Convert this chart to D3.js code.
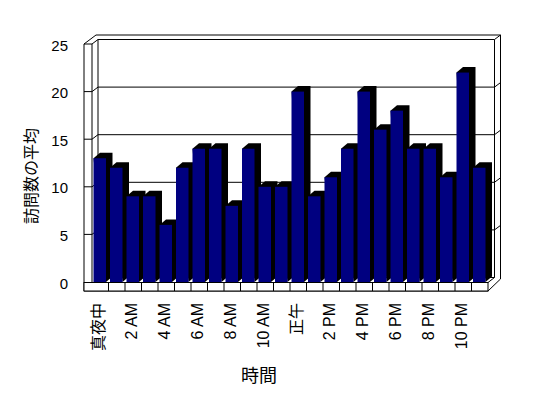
<!DOCTYPE html>
<html>
<head>
<meta charset="utf-8">
<script src="https://cdn.jsdelivr.net/npm/d3@7"></script>
<style>
body { margin: 0; background: #fff; }
text { font-family: "Liberation Sans", "Noto Sans CJK JP", sans-serif; fill: #000; }
</style>
</head>
<body>
<script>
// data
var categories = ["真夜中", "1 AM", "2 AM", "3 AM", "4 AM", "5 AM", "6 AM", "7 AM", "8 AM", "9 AM", "10 AM", "11 AM",
                  "正午", "1 PM", "2 PM", "3 PM", "4 PM", "5 PM", "6 PM", "7 PM", "8 PM", "9 PM", "10 PM", "11 PM"];
var visits = [13, 12, 9, 9, 6, 12, 14, 14, 8, 14, 10, 10, 20, 9, 11, 14, 20, 16, 18, 14, 14, 11, 22, 12];
var yTicks = [0, 5, 10, 15, 20, 25];
var shownLabels = ["真夜中", "2 AM", "4 AM", "6 AM", "8 AM", "10 AM", "正午", "2 PM", "4 PM", "6 PM", "8 PM", "10 PM"];

var width = 548;
var height = 398;

// scales (front plane)
var x = d3.scaleBand().domain(categories).range([92, 488]);
var y = d3.scaleLinear().domain([0, 25]).range([282, 44]);

// depth offsets for walls and bars
var dx = 6, dy = 4.5;
var bdx = 6.5, bdy = 5.5;

var svg = d3.select("body").append("svg")
    .attr("width", width)
    .attr("height", height);

var line = svg.append("g")
    .attr("fill", "none")
    .attr("stroke", "#000")
    .attr("stroke-width", 1);

var top0 = y(25), base = y(0);
var xl = 84, xr = x.range()[1];
var right = xr + 2 * dx + 0.5;

// outer outline of walls and floor
line.append("path")
    .attr("fill", "#fff")
    .attr("d", "M" + xl + "," + top0 + " L" + (xl + 2 * dx) + "," + (top0 - 2 * dy) +
               " L" + right + "," + (top0 - 2 * dy) + " L" + right + "," + (base - 2 * dy + 6) +
               " L" + xr + "," + (base + 9) + " L" + xl + "," + (base + 9) + " Z");

// inner edges of wall
var innerL = x.range()[0];
line.append("path")
    .attr("d", "M" + xl + "," + top0 + " L" + innerL + "," + top0 + " L" + (innerL + dx) + "," + (top0 - dy) +
               " L" + (right - dx) + "," + (top0 - dy) + " L" + right + "," + (top0 - 2 * dy));
line.append("path").attr("d", "M" + innerL + "," + top0 + " V" + base);
line.append("path").attr("d", "M" + (innerL + dx) + "," + (top0 - dy) + " V" + (base - dy));
line.append("path").attr("d", "M" + (right - dx) + "," + (top0 - dy) + " V" + (base - dy));

// gridlines
line.selectAll("path.grid")
    .data(yTicks.filter(function(d) { return d > 0 && d < 25; }))
    .enter()
    .append("path")
    .attr("class", "grid")
    .attr("d", function(d) {
        var yy = y(d);
        return "M" + xl + "," + yy + " L" + innerL + "," + yy + " L" + (innerL + dx) + "," + (yy - dy) +
               " L" + (right - dx) + "," + (yy - dy) + " L" + right + "," + (yy - 2 * dy);
    });

// floor
line.append("path").attr("d", "M" + (innerL + dx) + "," + (base - dy) + " H" + (right - dx));
line.append("rect")
    .attr("x", xl).attr("y", base + 0.5)
    .attr("width", xr - xl).attr("height", 8.5)
    .attr("fill", "#fff");
line.selectAll("path.div")
    .data(categories.slice(1))
    .enter()
    .append("path")
    .attr("class", "div")
    .attr("d", function(d) { return "M" + x(d) + "," + (base + 0.5) + " V" + (base + 9); });
line.append("path").attr("d", "M" + xr + "," + (base + 0.5) + " L" + (right - dx) + "," + (base - dy));

// bars
var bw = x.bandwidth() - 4;
var bars = svg.append("g");
categories.forEach(function(c, i) {
    var x0 = x(c) + 1.5, yt = y(visits[i]);
    bars.append("path")
        .attr("fill", "#000")
        .attr("d", "M" + x0 + "," + yt + " L" + (x0 + bdx) + "," + (yt - bdy) +
                   " L" + (x0 + bw + bdx) + "," + (yt - bdy) + " L" + (x0 + bw + bdx) + "," + (base - bdy) +
                   " L" + (x0 + bw) + "," + base + " Z");
    bars.append("rect")
        .attr("x", x0).attr("y", yt)
        .attr("width", bw).attr("height", base - yt)
        .attr("fill", "#000080");
});

// y tick labels
svg.selectAll("text.ytick")
    .data(yTicks)
    .enter()
    .append("text")
    .attr("class", "ytick")
    .attr("x", 68)
    .attr("y", function(d) { return y(d) + 1; })
    .attr("text-anchor", "end")
    .attr("dominant-baseline", "central")
    .style("font-size", "15px")
    .text(function(d) { return d; });

// x tick labels
svg.selectAll("text.xtick")
    .data(shownLabels)
    .enter()
    .append("text")
    .attr("class", "xtick")
    .attr("transform", function(d) {
        return "translate(" + (x(d) + x.bandwidth() / 2 - 1.5) + ",303) rotate(-90)";
    })
    .attr("text-anchor", "end")
    .attr("dominant-baseline", "central")
    .style("font-size", "16px")
    .text(function(d) { return d; });

// axis titles
svg.append("text")
    .attr("transform", "translate(31,176) rotate(-90)")
    .attr("text-anchor", "middle")
    .attr("dominant-baseline", "central")
    .style("font-size", "16px")
    .text("訪問数の平均");

svg.append("text")
    .attr("x", 259)
    .attr("y", 376)
    .attr("text-anchor", "middle")
    .attr("dominant-baseline", "central")
    .style("font-size", "18px")
    .text("時間");
</script>
</body>
</html>
